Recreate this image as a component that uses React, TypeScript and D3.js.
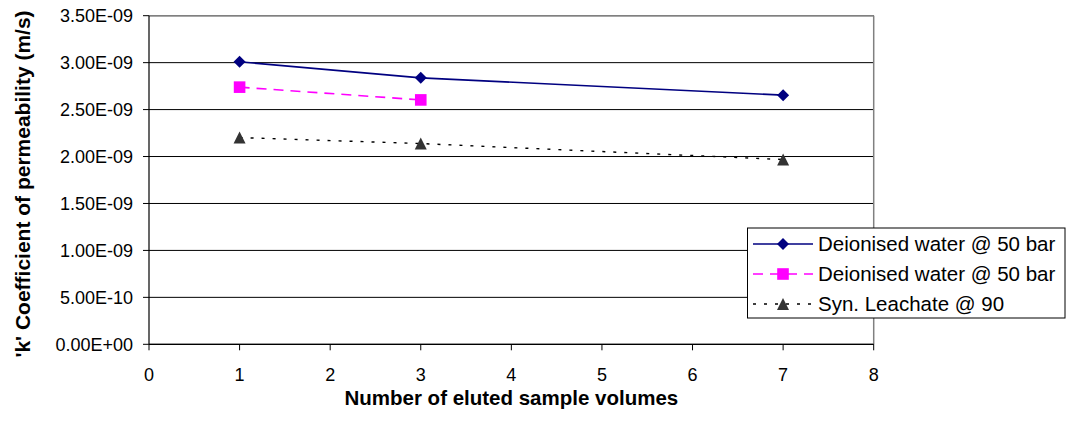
import React from "react";
import * as d3 from "d3";

const xTicks = [0, 1, 2, 3, 4, 5, 6, 7, 8];
const yTicks = [0, 0.5e-9, 1.0e-9, 1.5e-9, 2.0e-9, 2.5e-9, 3.0e-9, 3.5e-9];

const series1X = [1, 3, 7];
const series1Y = [3.009e-9, 2.838e-9, 2.654e-9];
const series2X = [1, 3];
const series2Y = [2.739e-9, 2.603e-9];
const series3X = [1, 3, 7];
const series3Y = [2.202e-9, 2.138e-9, 1.968e-9];

const seriesNames = [
  "Deionised water @ 50 bar",
  "Deionised water @ 50 bar",
  "Syn. Leachate @ 90",
];

const W = 1068;
const H = 425;
const left = 149;
const right = 873.7;
const top = 15.7;
const bottom = 344.3;

const fmt = (v: number) => {
  const s = v.toExponential(2).toUpperCase();
  const m = s.match(/^([\d.]+)E([+-])(\d+)$/);
  if (!m) return s;
  return `${m[1]}E${m[2]}${m[3].padStart(2, "0")}`;
};

const font = "'Liberation Sans', Arial, sans-serif";

function Marker({ type, x, y }: { type: string; x: number; y: number }) {
  if (type === "diamond") {
    const r = 6;
    return (
      <path
        d={`M${x},${y - r}L${x + r},${y}L${x},${y + r}L${x - r},${y}Z`}
        fill="#000080"
      />
    );
  }
  if (type === "square") {
    const r = 5.8;
    return <rect x={x - r} y={y - r} width={2 * r} height={2 * r} fill="#FF00FF" />;
  }
  const r = 6;
  return (
    <path
      d={`M${x},${y - r}L${x + r},${y + r}L${x - r},${y + r}Z`}
      fill="#333333"
    />
  );
}

export default function App() {
  const x = d3.scaleLinear().domain([0, 8]).range([left, right]);
  const y = d3.scaleLinear().domain([0, 3.5e-9]).range([bottom, top]);
  const line = d3
    .line<[number, number]>()
    .x((d) => x(d[0]))
    .y((d) => y(d[1]));

  const series = [
    { xs: series1X, ys: series1Y, color: "#000080", dash: "none", marker: "diamond", width: 1.6 },
    { xs: series2X, ys: series2Y, color: "#FF00FF", dash: "10,7", marker: "square", width: 1.6 },
    { xs: series3X, ys: series3Y, color: "#000000", dash: "3,8", marker: "triangle", width: 1.4 },
  ];

  const legX = 747.5;
  const legY = 228;
  const legW = 1065 - 747.5;
  const legH = 90;
  const rowY = [244, 274, 304];

  return (
    <svg width={W} height={H} style={{ display: "block", position: "absolute", left: 0, top: 0 }}>
      <rect x={0} y={0} width={W} height={H} fill="#fff" />
      {yTicks.map((t) => (
        <line key={"g" + t} x1={left} x2={right} y1={y(t)} y2={y(t)} stroke="#000" strokeWidth={1} />
      ))}
      <line x1={left} x2={right} y1={top} y2={top} stroke="#808080" strokeWidth={1.5} />
      <line x1={right} x2={right} y1={top} y2={bottom} stroke="#808080" strokeWidth={1.5} />
      <line x1={left} x2={left} y1={top} y2={bottom} stroke="#000" strokeWidth={1.2} />
      <line x1={left} x2={right} y1={bottom} y2={bottom} stroke="#000" strokeWidth={1.2} />
      {yTicks.map((t) => (
        <g key={"yt" + t}>
          <line x1={left - 6} x2={left} y1={y(t)} y2={y(t)} stroke="#000" />
          <text
            x={133}
            y={y(t)}
            dy="0.36em"
            textAnchor="end"
            fontFamily={font}
            fontSize={18}
            fill="#000"
          >
            {fmt(t)}
          </text>
        </g>
      ))}
      {xTicks.map((t) => (
        <g key={"xt" + t}>
          <line x1={x(t)} x2={x(t)} y1={bottom} y2={bottom + 6} stroke="#000" />
          <text
            x={x(t)}
            y={380.5}
            textAnchor="middle"
            fontFamily={font}
            fontSize={18}
            fill="#000"
          >
            {t}
          </text>
        </g>
      ))}
      <text
        x={(left + right) / 2}
        y={404.5}
        textAnchor="middle"
        fontFamily={font}
        fontSize={20.5}
        fontWeight="bold"
        fill="#000"
      >
        Number of eluted sample volumes
      </text>
      <text
        transform={`translate(30,${(top + bottom) / 2 + 4}) rotate(-90)`}
        textAnchor="middle"
        fontFamily={font}
        fontSize={21}
        fontWeight="bold"
        fill="#000"
      >
        'k' Coefficient of permeability (m/s)
      </text>
      {series.map((s, i) => {
        const pts = s.xs.map((xv, j) => [xv, s.ys[j]] as [number, number]);
        return (
          <g key={"s" + i}>
            <path
              d={line(pts) || ""}
              fill="none"
              stroke={s.color}
              strokeWidth={s.width}
              strokeDasharray={s.dash}
            />
            {pts.map((p, j) => (
              <Marker key={j} type={s.marker} x={x(p[0])} y={y(p[1])} />
            ))}
          </g>
        );
      })}
      <rect x={legX} y={legY} width={legW} height={legH} fill="#fff" stroke="#000" strokeWidth={1} />
      {series.map((s, i) => (
        <g key={"l" + i}>
          <line
            x1={753}
            x2={813}
            y1={rowY[i]}
            y2={rowY[i]}
            stroke={s.color}
            strokeWidth={s.width}
            strokeDasharray={s.dash}
          />
          <Marker type={s.marker} x={783} y={rowY[i]} />
          <text
            x={818}
            y={rowY[i]}
            dy="0.36em"
            fontFamily={font}
            fontSize={20.5}
            fill="#000"
          >
            {seriesNames[i]}
          </text>
        </g>
      ))}
    </svg>
  );
}
